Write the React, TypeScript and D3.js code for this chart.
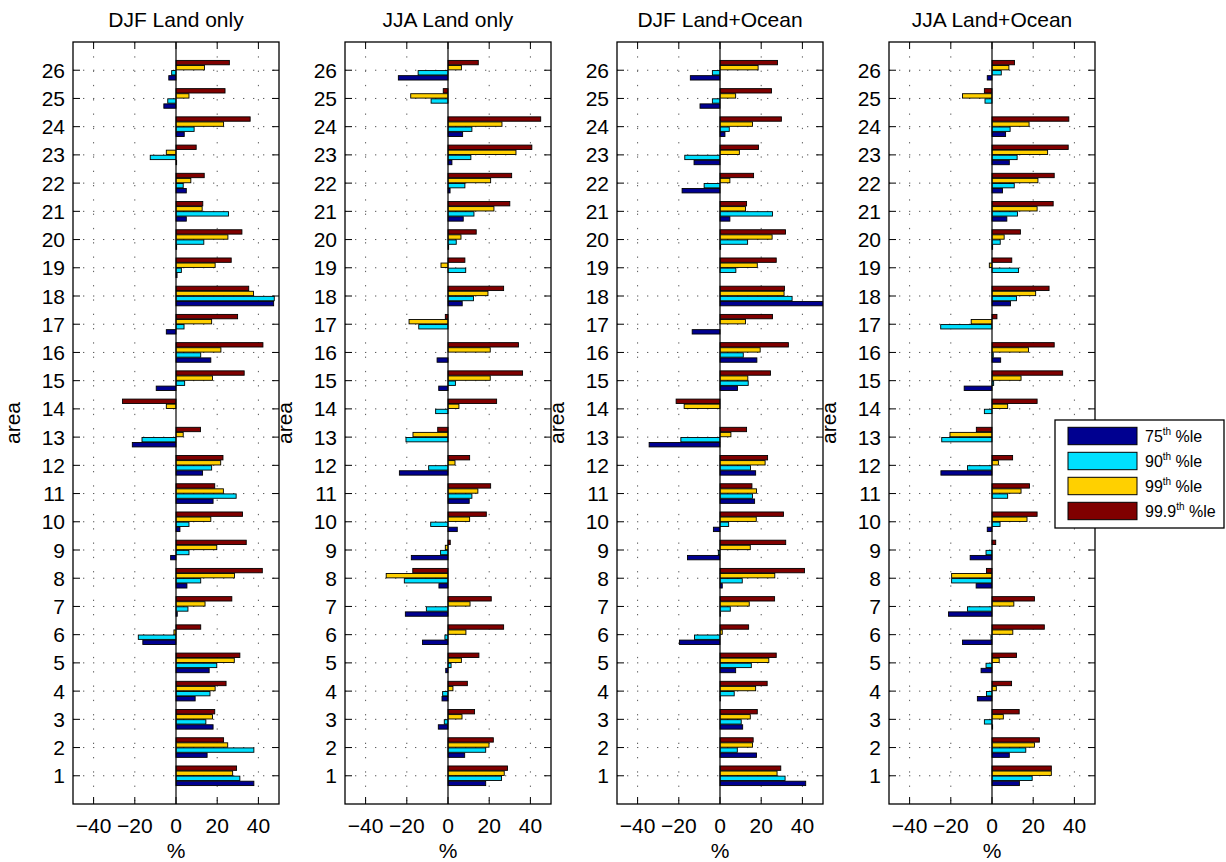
import React from "react";
import * as d3 from "d3";

const titles = ["DJF Land only", "JJA Land only", "DJF Land+Ocean", "JJA Land+Ocean"];
const areas = d3.range(1, 27);
const xTicks = [-40, -20, 0, 20, 40];
const legendLabels = [
  { main: "75", sup: "th", rest: " %le" },
  { main: "90", sup: "th", rest: " %le" },
  { main: "99", sup: "th", rest: " %le" },
  { main: "99.9", sup: "th", rest: " %le" },
];
const colors = ["#000090", "#00E0FF", "#FFD000", "#800000"];

// values for areas 1..26
const djfLand75 = [37.8, 15.1, 18.0, 9.3, 16.1, -16.1, 0.6, 5.3, -2.6, 1.9, 18.0, 12.9, -21.2, 0, -9.6, 16.9, -4.7, 47.4, 0.5, 0.3, 5.0, 5.0, 0.3, 4.0, -5.9, -3.5];
const djfLand90 = [31.0, 37.8, 14.5, 16.5, 19.8, -18.3, 5.8, 12.0, 6.3, 6.3, 29.2, 17.3, -16.5, 0, 4.2, 12.0, 3.9, 47.7, 2.6, 13.5, 25.5, 3.5, -12.5, 8.8, -4.0, -2.1];
const djfLand99 = [27.5, 25.1, 17.7, 19.0, 28.3, -1.0, 14.1, 28.4, 19.8, 16.9, 23.0, 21.7, 3.5, -4.7, 17.7, 21.8, 17.3, 37.6, 19.0, 25.2, 12.7, 7.2, -4.7, 23.1, 6.3, 13.8];
const djfLand999 = [29.4, 23.1, 18.8, 24.3, 31.0, 12.0, 27.1, 41.9, 34.1, 32.3, 18.8, 22.8, 11.9, -26.0, 33.1, 42.2, 29.9, 35.3, 26.8, 32.0, 13.0, 13.7, 9.8, 36.0, 23.8, 25.9];

const jjaLand75 = [18.3, 8.1, -4.7, -2.9, -1.1, -12.4, -20.7, -4.4, -17.8, 4.5, 10.3, -23.6, 0, 0, -4.5, -5.3, 0, 6.9, 0, 0.3, 7.4, 1.0, 1.9, 7.1, 0, -24.1];
const jjaLand90 = [26.0, 18.3, -1.8, -2.6, 1.5, -1.5, -10.5, -21.2, -3.6, -8.4, 11.6, -9.4, -20.4, -6.0, 3.6, 0, -14.2, 12.4, 8.6, 4.0, 12.6, 8.2, 11.1, 11.6, -8.2, -14.5];
const jjaLand99 = [27.3, 19.9, 6.8, 2.4, 6.5, 8.7, 10.7, -30.0, -1.3, 10.5, 14.5, 3.4, -17.0, 5.3, 20.5, 20.5, -18.9, 19.4, -3.4, 6.3, 22.3, 20.7, 33.0, 26.2, -18.1, 6.5];
const jjaLand999 = [28.9, 22.0, 12.9, 9.4, 15.0, 27.0, 21.0, -17.1, 1.1, 18.6, 20.7, 10.5, -5.0, 23.6, 36.2, 34.2, -1.3, 27.0, 8.2, 13.7, 30.0, 30.9, 40.7, 45.0, -2.3, 14.7];

const djfLO75 = [41.6, 17.7, 11.0, 0.2, 7.6, -19.7, 0.2, 1.1, -15.8, -3.2, 16.8, 17.3, -34.4, 0, 8.5, 17.9, -13.5, 52.0, 0, 0.3, 4.8, -18.4, -12.6, 2.4, -9.7, -14.4];
const djfLO90 = [31.6, 8.4, 10.3, 6.9, 15.2, -12.4, 5.0, 10.8, -0.8, 4.2, 15.8, 14.8, -19.0, 0, 13.7, 11.3, 0, 35.0, 7.7, 13.4, 25.5, -7.7, -17.1, 4.5, -3.7, -3.7];
const djfLO99 = [27.7, 15.8, 14.7, 17.3, 23.7, 1.1, 14.2, 26.6, 14.7, 17.6, 17.7, 21.9, 5.3, -17.4, 13.5, 19.5, 12.4, 31.1, 18.1, 25.3, 12.4, 4.8, 9.4, 15.8, 7.6, 18.5];
const djfLO999 = [29.5, 16.1, 18.1, 22.9, 27.3, 13.9, 26.5, 41.0, 31.9, 30.8, 15.5, 23.1, 12.9, -21.3, 24.5, 33.2, 25.5, 31.3, 27.3, 31.8, 12.9, 16.3, 18.7, 29.8, 25.0, 27.9];

const jjaLO75 = [13.3, 8.4, 0.3, -7.1, -5.3, -14.3, -21.1, -7.7, -10.6, -2.3, 0, -24.8, 0, 0, -13.5, 4.2, 0, 9.0, 0, 0.3, 7.2, 5.1, 8.4, 6.6, 0, -2.3];
const jjaLO90 = [19.5, 16.4, -3.7, -2.7, -2.9, -0.5, -11.9, -19.6, -2.9, 3.9, 7.6, -11.9, -24.4, -3.7, 0.8, 0.6, -24.9, 11.9, 12.9, 4.0, 12.4, 10.8, 12.2, 8.8, -3.4, 4.5];
const jjaLO99 = [28.8, 20.6, 5.5, 2.1, 3.5, 10.1, 10.6, -19.6, 0, 17.0, 14.1, 3.1, -20.4, 7.6, 14.1, 17.7, -10.1, 21.2, -1.3, 5.9, 21.9, 22.3, 27.0, 18.0, -14.3, 8.2];
const jjaLO999 = [28.8, 23.0, 13.2, 9.5, 11.9, 25.4, 20.6, -2.7, 1.8, 21.9, 18.2, 10.0, -7.6, 21.9, 34.3, 30.2, 2.4, 27.7, 9.6, 13.8, 29.7, 30.2, 37.0, 37.3, -3.7, 10.9];

const panels = [
  [djfLand75, djfLand90, djfLand99, djfLand999],
  [jjaLand75, jjaLand90, jjaLand99, jjaLand999],
  [djfLO75, djfLO90, djfLO99, djfLO999],
  [jjaLO75, jjaLO90, jjaLO99, jjaLO999],
];

const W = 1226;
const H = 862;
const panelLefts = [73, 345, 617, 889];
const PW = 206;
const TOP = 42;
const BOTTOM = 804;
const FONT = "'Liberation Sans', Arial, Helvetica, sans-serif";
const FS = 21;

const y = d3.scaleLinear().domain([0, 27]).range([BOTTOM, TOP]);
const barStep = 0.18;
const barH = y(0) - y(0.155);

function Panel({ idx }: { idx: number }) {
  const left = panelLefts[idx];
  const x = d3.scaleLinear().domain([-50, 50]).range([left, left + PW]);
  const series = panels[idx];
  const clipId = `clip${idx}`;
  const tickLen = 7;
  return (
    <g>
      <defs>
        <clipPath id={clipId}>
          <rect x={left} y={TOP} width={PW} height={BOTTOM - TOP} />
        </clipPath>
      </defs>
      {/* grid */}
      {areas.map((a) => (
        <line key={"gy" + a} x1={left} x2={left + PW} y1={y(a)} y2={y(a)} stroke="#555" strokeWidth={1} strokeDasharray="1.3,8.7" />
      ))}
      {xTicks.filter((t) => t !== 0).map((t) => (
        <line key={"gx" + t} x1={x(t)} x2={x(t)} y1={TOP} y2={BOTTOM} stroke="#555" strokeWidth={1} strokeDasharray="1.3,13" />
      ))}
      {/* bars */}
      <g clipPath={`url(#${clipId})`}>
        {series.map((vals, s) =>
          vals.map((v, i) => {
            const a = areas[i];
            const cy = y(a + (s - 1.5) * barStep);
            const x0 = x(Math.min(0, v));
            const x1 = x(Math.max(0, v));
            return (
              <rect
                key={`b${s}-${i}`}
                x={x0}
                y={cy - barH / 2}
                width={Math.max(0, x1 - x0)}
                height={barH}
                fill={colors[s]}
                stroke="#000"
                strokeWidth={0.9}
              />
            );
          })
        )}
      </g>
      {/* baseline */}
      <line x1={x(0)} x2={x(0)} y1={TOP} y2={BOTTOM} stroke="#000" strokeWidth={1.2} />
      {/* ticks */}
      {xTicks.map((t) => (
        <g key={"xt" + t}>
          <line x1={x(t)} x2={x(t)} y1={BOTTOM} y2={BOTTOM - tickLen} stroke="#000" strokeWidth={1} />
          <line x1={x(t)} x2={x(t)} y1={TOP} y2={TOP + tickLen} stroke="#000" strokeWidth={1} />
          <text x={x(t)} y={833} textAnchor="middle" fontFamily={FONT} fontSize={FS} fill="#000">
            {d3.format("")(t)}
          </text>
        </g>
      ))}
      {areas.map((a) => (
        <g key={"yt" + a}>
          <line x1={left} x2={left + tickLen} y1={y(a)} y2={y(a)} stroke="#000" strokeWidth={1} />
          <line x1={left + PW} x2={left + PW - tickLen} y1={y(a)} y2={y(a)} stroke="#000" strokeWidth={1} />
          <text x={left - 8} y={y(a)} dy="0.36em" textAnchor="end" fontFamily={FONT} fontSize={FS} fill="#000">
            {a}
          </text>
        </g>
      ))}
      {/* box */}
      <rect x={left} y={TOP} width={PW} height={BOTTOM - TOP} fill="none" stroke="#000" strokeWidth={1.3} />
      {/* title */}
      <text x={left + PW / 2} y={27} textAnchor="middle" fontFamily={FONT} fontSize={FS} fill="#000">
        {titles[idx]}
      </text>
      {/* axis labels */}
      <text x={left + PW / 2} y={858} textAnchor="middle" fontFamily={FONT} fontSize={FS} fill="#000">
        %
      </text>
      <text
        transform={`translate(${left - 53},${(TOP + BOTTOM) / 2}) rotate(-90)`}
        textAnchor="middle"
        fontFamily={FONT}
        fontSize={FS}
        fill="#000"
      >
        area
      </text>
    </g>
  );
}

function Legend() {
  const lx = 1055;
  const ly = 420;
  const lw = 169;
  const lh = 108;
  return (
    <g>
      <rect x={lx} y={ly} width={lw} height={lh} fill="#fff" stroke="#000" strokeWidth={1.3} />
      {legendLabels.map((l, i) => {
        const cy = 436 + i * 25;
        return (
          <g key={"lg" + i}>
            <rect x={1068} y={cy - 8.7} width={69} height={17.4} fill={colors[i]} stroke="#000" strokeWidth={1} />
            <text x={1145} y={cy + 6} fontFamily={FONT} fontSize={16} fill="#000">
              {l.main}
              <tspan fontSize={10} dy={-7}>{l.sup}</tspan>
              <tspan dy={7}>{l.rest}</tspan>
            </text>
          </g>
        );
      })}
    </g>
  );
}

export default function App() {
  return (
    <svg width={W} height={H} style={{ position: "absolute", left: 0, top: 0, background: "#fff" }}>
      <rect x={0} y={0} width={W} height={H} fill="#fff" />
      {[0, 1, 2, 3].map((i) => (
        <Panel key={i} idx={i} />
      ))}
      <Legend />
    </svg>
  );
}
